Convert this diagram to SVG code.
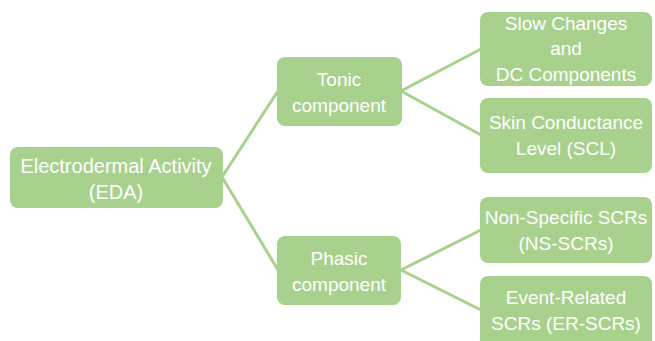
<svg xmlns="http://www.w3.org/2000/svg" width="655" height="341" viewBox="0 0 655 341">
<style>
.box{fill:#a9d18e;}
.t{font-family:"Liberation Sans",Arial,sans-serif;font-size:19px;fill:#ffffff;text-anchor:middle;}
.c{stroke:#a9d18e;stroke-width:3;fill:none;}
</style>
<rect width="655" height="341" fill="#ffffff"/>
<g id="connectors">
<line class="c" x1="222" y1="177" x2="278" y2="91"/>
<line class="c" x1="222" y1="177" x2="278" y2="270"/>
<line class="c" x1="401" y1="91" x2="481" y2="49"/>
<line class="c" x1="401" y1="91" x2="481" y2="135"/>
<line class="c" x1="401" y1="270" x2="481" y2="230"/>
<line class="c" x1="401" y1="270" x2="481" y2="310"/>
</g>
<g id="eda">
<rect class="box" x="10" y="147" width="213" height="61" rx="8"/>
<text class="t" x="116" y="173" style="font-size:20px">Electrodermal Activity</text>
<text class="t" x="116" y="199" style="font-size:20px">(EDA)</text>
</g>
<g id="tonic">
<rect class="box" x="277" y="57" width="125" height="69" rx="8"/>
<text class="t" x="339" y="86">Tonic</text>
<text class="t" x="339" y="112">component</text>
</g>
<g id="phasic">
<rect class="box" x="277" y="236" width="124" height="69" rx="8"/>
<text class="t" x="339" y="265">Phasic</text>
<text class="t" x="339" y="291">component</text>
</g>
<g id="slow">
<rect class="box" x="480" y="12" width="172" height="74" rx="8"/>
<text class="t" x="566" y="30">Slow Changes</text>
<text class="t" x="566" y="55">and</text>
<text class="t" x="566" y="81">DC Components</text>
</g>
<g id="scl">
<rect class="box" x="480" y="98" width="172" height="75" rx="8"/>
<text class="t" x="566" y="129">Skin Conductance</text>
<text class="t" x="566" y="155">Level (SCL)</text>
</g>
<g id="ns">
<rect class="box" x="480" y="197" width="172" height="66" rx="8"/>
<text class="t" x="566" y="224">Non-Specific SCRs</text>
<text class="t" x="566" y="250">(NS-SCRs)</text>
</g>
<g id="er">
<rect class="box" x="480" y="276" width="172" height="72" rx="8"/>
<text class="t" x="566" y="304">Event-Related</text>
<text class="t" x="566" y="330">SCRs (ER-SCRs)</text>
</g>
</svg>
